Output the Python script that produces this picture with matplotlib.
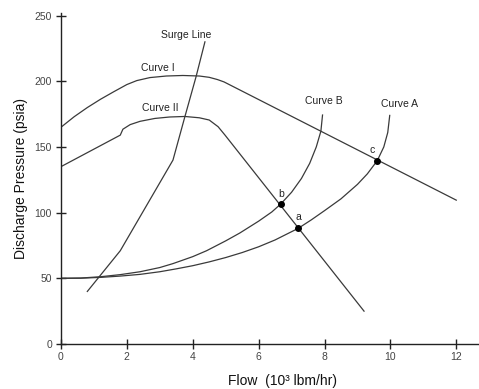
import matplotlib.pyplot as plt

plt.rcParams['font.family'] = ['Liberation Sans', 'DejaVu Sans']

# curves (flow in 10^3 lbm/hr, pressure in psia)
curve1_x = [0, 0.4, 0.8, 1.2, 1.6, 2.0, 2.3, 2.7, 3.2, 3.7, 4.2, 4.5, 4.75, 4.95, 12.0]
curve1_y = [165, 173, 180, 186.3, 192, 197.5, 200.5, 202.8, 204, 204.4, 204, 203, 201.3, 199.5, 109.5]

curve2_x = [0, 1.8, 1.88, 2.1, 2.4, 2.85, 3.3, 3.76, 4.2, 4.5, 4.77, 4.98, 9.2]
curve2_y = [135, 159, 163.5, 167, 169.5, 171.7, 172.8, 173.2, 172.2, 170.5, 165.4, 159, 25]

surge_x = [0.8, 1.8, 3.4, 3.75, 4.1, 4.37]
surge_y = [40, 71, 140, 172, 203.4, 230]

curveA_x = [0, 0.6, 1.2, 1.8, 2.4, 3.0, 3.5, 4.0, 4.5, 5.0, 5.5, 6.0, 6.5, 7.2, 7.6, 8.0,
            8.5, 9.0, 9.3, 9.6, 9.8, 9.92, 9.98]
curveA_y = [50, 50.1, 50.7, 51.7, 53, 55, 57.2, 59.6, 62.5, 65.8, 69.6, 74, 79.2, 88, 94.5, 101.5,
            110.5, 121.5, 129.5, 139.5, 150, 161, 174]

curveB_x = [0, 0.6, 1.2, 1.8, 2.4, 3.0, 3.4, 4.0, 4.42, 5.0, 5.43, 6.0, 6.4, 6.67, 7.0, 7.3,
            7.55, 7.75, 7.89, 7.94]
curveB_y = [50, 50.2, 51.2, 52.8, 55, 58.2, 61.2, 66.5, 71, 78.5, 84.5, 93.5, 100.5, 106.5, 115.5, 126,
            137.5, 150, 162, 174.3]

# operating points
pt_names = ['a', 'b', 'c']
pt_x = [7.2, 6.67, 9.6]
pt_y = [88, 106.5, 139.5]

curve_labels = ['Surge Line', 'Curve I', 'Curve II', 'Curve B', 'Curve A']
label_x = [3.79, 2.95, 3.0, 7.99, 10.29]
label_y = [235, 209.8, 180, 185, 182.4]

fig = plt.figure(figsize=(4.79, 3.89), dpi=100)
ax = fig.add_axes([0.1273, 0.1157, 0.8727, 0.851])

lc = '#3a3a3a'
lw = 0.9
ax.plot(curve1_x, curve1_y, color=lc, lw=lw)
ax.plot(curve2_x, curve2_y, color=lc, lw=lw)
ax.plot(surge_x, surge_y, color=lc, lw=lw)
ax.plot(curveA_x, curveA_y, color=lc, lw=lw)
ax.plot(curveB_x, curveB_y, color=lc, lw=lw)
ax.plot(pt_x, pt_y, 'o', color='black', markersize=4, zorder=5)

for name, x, y in zip(curve_labels, label_x, label_y):
    ax.text(x, y, name, fontsize=7.5, color='#222222', ha='center', va='center')
# point letters sit just above their dots
offs = [(0, 8.5), (0, 7.5), (-0.15, 8)]
for name, x, y, (dx, dy) in zip(pt_names, pt_x, pt_y, offs):
    ax.text(x + dx, y + dy, name, fontsize=7.5, color='#222222', ha='center', va='center')

ax.set_xlim(0, 12.69)
ax.set_ylim(0, 252)
ax.set_xticks([0, 2, 4, 6, 8, 10, 12])
ax.set_yticks([0, 50, 100, 150, 200, 250])
ax.tick_params(direction='inout', length=7, width=1, labelsize=7.5,
               labelcolor='#444444', color='#222222')
ax.tick_params(axis='x', pad=2.5)
ax.tick_params(axis='y', pad=3)
for s in ['top', 'right']:
    ax.spines[s].set_visible(False)
for s in ['left', 'bottom']:
    ax.spines[s].set_linewidth(1)
    ax.spines[s].set_color('#222222')

ax.set_xlabel('Flow  (10³ lbm/hr)', fontsize=10, color='#111111', va='baseline')
ax.xaxis.set_label_coords(0.529, -0.124)
ax.set_ylabel('Discharge Pressure (psia)', fontsize=10, labelpad=5, color='#111111')

fig.savefig('out.png', dpi=100)
plt.close(fig)
